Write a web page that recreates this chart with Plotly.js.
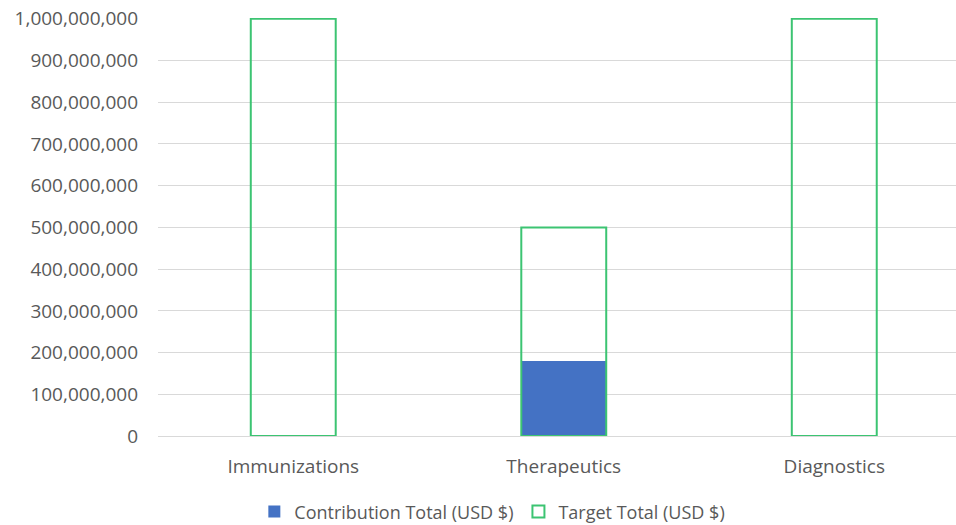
<!DOCTYPE html>
<html>
<head>
<meta charset="utf-8">
<script src="https://cdn.plot.ly/plotly-3.0.1.min.js"></script>
<style>html,body{margin:0;padding:0;background:#fff;overflow:hidden;}#chart{width:956px;height:525px;display:block;}</style>
</head>
<body>
<div id="chart"></div>
<script>
const categories = ["Immunizations", "Therapeutics", "Diagnostics"];
const contributionTotal = [2500000, 180000000, 0];
const targetTotal = [1000000000, 500000000, 1000000000];
const tickValues = [0, 100000000, 200000000, 300000000, 400000000, 500000000, 600000000, 700000000, 800000000, 900000000, 1000000000];
const tickLabels = ["0", "100,000,000", "200,000,000", "300,000,000", "400,000,000", "500,000,000", "600,000,000", "700,000,000", "800,000,000", "900,000,000", "1,000,000,000"];

const font = {family: "Open Sans, sans-serif", size: 19, color: "#595959"};

const traces = [
  {
    type: "bar", name: "Contribution Total (USD $)",
    x: categories, y: contributionTotal, width: 0.314,
    marker: {color: "#4472C4", line: {width: 0}},
    hoverinfo: "none"
  },
  {
    type: "bar", name: "Target Total (USD $)",
    x: categories, y: targetTotal, width: 0.314,
    marker: {color: "rgba(0,0,0,0)", line: {color: "#3CC472", width: 2}},
    hoverinfo: "none"
  }
];

const layout = {
  width: 956, height: 525,
  margin: {l: 158, r: 0, t: 18, b: 89, pad: 0},
  barmode: "overlay",
  paper_bgcolor: "#fff", plot_bgcolor: "#fff",
  font: font,
  showlegend: true,
  legend: {
    orientation: "h", xref: "container", yref: "container",
    x: 0.515, xanchor: "center", y: 0.025, yanchor: "middle",
    font: {family: "Open Sans, sans-serif", size: 18, color: "#595959"},
    traceorder: "normal", itemwidth: 30
  },
  xaxis: {
    type: "category", range: [-0.5, 2.45], automargin: false,
    showgrid: false, zeroline: false, showline: false,
    ticks: "", ticklabelstandoff: 17, tickfont: font
  },
  yaxis: {
    range: [0, 1002000000], automargin: false,
    tickvals: tickValues, ticktext: tickLabels,
    showgrid: true, gridcolor: "#D9D9D9", gridwidth: 1,
    zeroline: true, zerolinecolor: "#D9D9D9", zerolinewidth: 1,
    showline: false, ticks: "", ticklabelstandoff: 19, tickfont: font
  }
};

Plotly.newPlot("chart", traces, layout, {displayModeBar: false, staticPlot: true});
</script>
</body>
</html>
